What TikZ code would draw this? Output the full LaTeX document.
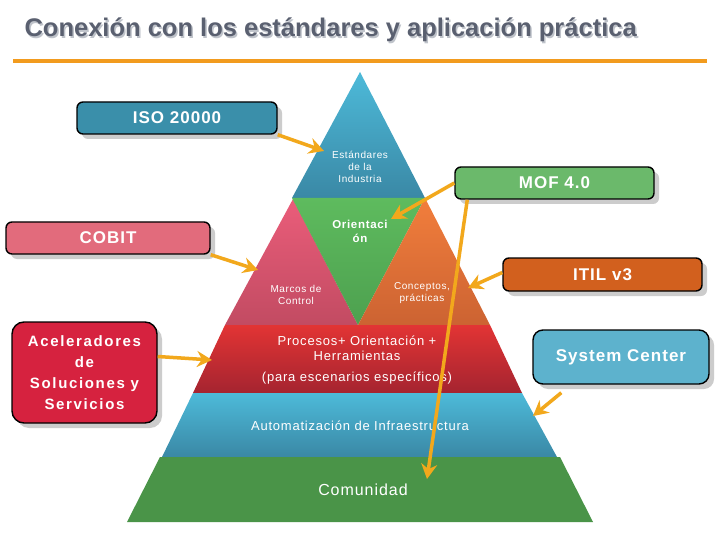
\documentclass[tikz,border=0pt]{standalone}
\usepackage{fontspec}
\setmainfont{Liberation Sans}
\newfontfamily\ancho[LetterSpace=6]{Liberation Sans}
\newfontfamily\muyancho[LetterSpace=11]{Liberation Sans}
\usetikzlibrary{arrows.meta,shadows}

\definecolor{tituloGris}{HTML}{5A6070}
\definecolor{tituloSombra}{HTML}{BFC3CA}
\definecolor{naranja}{HTML}{F29B1E}
\definecolor{flechaCol}{HTML}{F2A81C}
\definecolor{isoAzul}{HTML}{3A8FAA}
\definecolor{mofVerde}{HTML}{6BB96B}
\definecolor{cobitRosa}{HTML}{E26B7C}
\definecolor{itilNaranja}{HTML}{D2601E}
\definecolor{acelRojo}{HTML}{D6223F}
\definecolor{scAzul}{HTML}{5DB2CD}
% colores de la piramide
\definecolor{azulArriba}{HTML}{4DBAD9}
\definecolor{azulAbajo}{HTML}{3A88A5}
\definecolor{rosaArriba}{HTML}{EA5D7A}
\definecolor{rosaAbajo}{HTML}{C24B62}
\definecolor{verdeArriba}{HTML}{5EBB5E}
\definecolor{verdeAbajo}{HTML}{4DA04F}
\definecolor{naranjaArriba}{HTML}{F27E3C}
\definecolor{naranjaAbajo}{HTML}{CC6332}
\definecolor{rojoArriba}{HTML}{E23434}
\definecolor{rojoAbajo}{HTML}{A52430}
\definecolor{verdeBase}{HTML}{4A9448}

\tikzset{
  caja/.style={draw=black, line width=1.4pt, rounded corners=6pt, text=white,
    font=\ancho\bfseries\fontsize{17}{19}\selectfont, inner sep=0pt,
    drop shadow={shadow xshift=5pt, shadow yshift=-5pt, fill=black!20, opacity=1}},
  flecha/.style={draw=flechaCol, line width=3.5pt,
    -{Stealth[length=15pt,width=16pt,inset=5pt]}},
  piso/.style={text=white, align=center, inner sep=0pt},
  chico/.style={piso, font=\ancho\fontsize{10}{12}\selectfont},
}

\begin{document}
\begin{tikzpicture}[x=1pt,y=-1pt]
  \useasboundingbox[fill=white] (0,0) rectangle (720,540);

  % titulo
  \node[anchor=west, text=tituloSombra, font=\bfseries\fontsize{25.5}{28}\selectfont]
    (sombra) at (22.5,31.5) {Conexión con los estándares y aplicación práctica};
  \node[anchor=west, text=tituloGris, font=\bfseries\fontsize{25.5}{28}\selectfont]
    (titulo) at (21,30) {Conexión con los estándares y aplicación práctica};
  \draw[naranja, line width=4pt] (13,61) -- (707,61);

  % piramide
  \shade[top color=azulArriba, bottom color=azulAbajo]
    (360,72) -- (425,198) -- (292,198) -- cycle;
  \shade[top color=rosaArriba, bottom color=rosaAbajo]
    (293,199) -- (358,325) -- (225,325) -- cycle;
  \shade[top color=verdeArriba, bottom color=verdeAbajo]
    (292,198) -- (425,198) -- (358,325) -- cycle;
  \shade[top color=naranjaArriba, bottom color=naranjaAbajo]
    (425,198) -- (490,325) -- (358,325) -- cycle;
  \shade[top color=rojoArriba, bottom color=rojoAbajo]
    (225,325) -- (490,325) -- (522,393) -- (193,393) -- cycle;
  \shade[top color=azulArriba, bottom color=azulAbajo]
    (193,393) -- (522,393) -- (557,457) -- (162,457) -- cycle;
  \fill[verdeBase] (160,457) -- (560,457) -- (593,522) -- (127,522) -- cycle;

  \node[chico] (estandares) at (360,167) {Estándares\\de la\\Industria};
  \node[piso, font=\ancho\bfseries\fontsize{11.5}{14}\selectfont] (orient) at (360,231)
    {Orientaci\\ón};
  \node[chico] (marcos) at (296,295) {Marcos de\\Control};
  \node[chico] (conceptos) at (422,293) {Conceptos,\\prácticas};
  \node[piso, font=\ancho\fontsize{13}{15}\selectfont] (procesos) at (357,360)
    {Procesos+ Orientación +\\Herramientas\\[6pt](para escenarios específicos)};
  \node[piso, font=\ancho\fontsize{13}{15}\selectfont] (automat) at (360,426)
    {Automatización de Infraestructura};
  \node[piso, font=\ancho\fontsize{16}{18}\selectfont] (comunidad) at (363,490)
    {Comunidad};

  % cajas
  \node[caja, fill=isoAzul, minimum width=200pt, minimum height=32pt] (iso) at (177,118) {ISO 20000};
  \node[caja, fill=mofVerde, minimum width=199pt, minimum height=32pt] (mof) at (554.5,183) {MOF 4.0};
  \node[caja, fill=cobitRosa, minimum width=204pt, minimum height=32pt] (cobit) at (108,238) {COBIT};
  \node[caja, fill=itilNaranja, minimum width=199pt, minimum height=33pt] (itil) at (602.5,274.5) {ITIL v3};
  \node[caja, fill=acelRojo, rounded corners=12pt, minimum width=145pt, minimum height=101pt,
    align=center, font=\muyancho\bfseries\fontsize{15}{21}\selectfont] (acel) at (84.5,372.5)
    {Aceleradores\\de\\Soluciones y\\Servicios};
  \node[caja, fill=scAzul, rounded corners=10pt, minimum width=176pt, minimum height=54pt] (sc) at (621,357) {System Center};

  % puntas de flecha
  \coordinate (pIso) at (324,151);
  \coordinate (pOrient) at (391,219);
  \coordinate (pComun) at (427,479);
  \coordinate (pCobit) at (258,270);
  \coordinate (pAcel) at (212,360);
  \coordinate (pItil) at (468,288);
  \coordinate (pSc) at (533,416);

  \draw[flecha] (iso.south east) -- (pIso);
  \draw[flecha] (mof.west) -- (pOrient);
  \draw[flecha] ([xshift=13pt]mof.south west) -- (pComun);
  \draw[flecha] (cobit.south east) -- (pCobit);
  \draw[flecha] ([yshift=16pt]acel.east) -- (pAcel);
  \draw[flecha] ([yshift=2pt]itil.west) -- (pItil);
  \draw[flecha] ([xshift=29pt,yshift=-8pt]sc.south west) -- (pSc);
\end{tikzpicture}
\end{document}
